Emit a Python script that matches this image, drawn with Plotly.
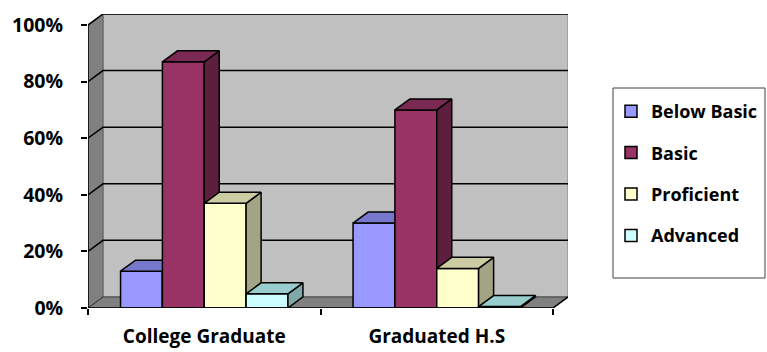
import plotly.graph_objects as go

# ---------------- data ----------------
categories = ["College Graduate", "Graduated H.S"]
series_names = ["Below Basic", "Basic", "Proficient", "Advanced"]
below_basic = [13, 30]
basic = [87, 70]
proficient = [37, 14]
advanced = [5, 0.5]
y_ticks = [0, 20, 40, 60, 80, 100]
y_tick_labels = ["0%", "20%", "40%", "60%", "80%", "100%"]

# ---------------- styles ----------------
front_colors = ["#9999FF", "#993366", "#FFFFCC", "#CCFFFF"]
top_colors = ["#7777CC", "#7A2952", "#CCCCA3", "#99CCCC"]
side_colors = ["#5C5C99", "#5E1F3F", "#A3A385", "#7FA8A8"]
FONT = "Open Sans"
DX = 0.0645   # depth offset in category units
DY = 3.9      # depth offset in percent units
BARGAP = 0.28

series_values = [below_basic, basic, proficient, advanced]
n = len(series_values)
bw = (1 - BARGAP) / n
xc = list(range(len(categories)))
x_lo, x_hi = -0.5, len(categories) - 0.5
y_top = y_ticks[-1]

fig = go.Figure()

for i, (name, vals) in enumerate(zip(series_names, series_values)):
    off = -(1 - BARGAP) / 2 + i * bw
    fig.add_trace(go.Bar(
        x=xc, y=vals, name=name, width=bw, offset=off,
        marker=dict(color=front_colors[i], line=dict(color="black", width=1.5)),
        legendgroup=name, zorder=3 * i, hoverinfo="skip",
    ))
    sx, sy, tx, ty = [], [], [], []
    for c, v in zip(xc, vals):
        x0 = c + off
        x1 = x0 + bw
        sx += [x1, x1 + DX, x1 + DX, x1, x1, None]
        sy += [0, DY, v + DY, v, 0, None]
        tx += [x0, x1, x1 + DX, x0 + DX, x0, None]
        ty += [v, v, v + DY, v + DY, v, None]
    fig.add_trace(go.Scatter(
        x=sx, y=sy, mode="lines", fill="toself", fillcolor=side_colors[i],
        line=dict(color="black", width=1.5), showlegend=False,
        legendgroup=name, zorder=3 * i + 1, hoverinfo="skip",
    ))
    fig.add_trace(go.Scatter(
        x=tx, y=ty, mode="lines", fill="toself", fillcolor=top_colors[i],
        line=dict(color="black", width=1.5), showlegend=False,
        legendgroup=name, zorder=3 * i + 2, hoverinfo="skip",
    ))

# invisible trace to attach overlay x axis with boundary ticks
fig.add_trace(go.Scatter(x=[x_lo], y=[0], xaxis="x2", mode="markers",
                         marker=dict(opacity=0), showlegend=False, hoverinfo="skip"))

W, H = 767, 352
ml, mt = 88, 14
mr, mb = W - 568, H - 308
PW, PH = W - ml - mr, H - mt - mb

shapes = []
# back wall
shapes.append(dict(type="path", layer="below", xref="x", yref="y",
                   path=f"M{x_lo+DX},{DY} L{x_hi+DX},{DY} L{x_hi+DX},{y_top+DY} L{x_lo+DX},{y_top+DY} Z",
                   fillcolor="#C0C0C0", line=dict(color="#808080", width=1)))
# side wall
shapes.append(dict(type="path", layer="below", xref="x", yref="y",
                   path=f"M{x_lo},0 L{x_lo+DX},{DY} L{x_lo+DX},{y_top+DY} L{x_lo},{y_top} Z",
                   fillcolor="#808080", line=dict(color="#606060", width=1)))
# floor
shapes.append(dict(type="path", layer="below", xref="x", yref="y",
                   path=f"M{x_lo},0 L{x_hi},0 L{x_hi+DX},{DY} L{x_lo+DX},{DY} Z",
                   fillcolor="#808080", line=dict(color="#404040", width=1)))
# gridlines
for t in y_ticks[1:]:
    shapes.append(dict(type="path", layer="below", xref="x", yref="y",
                       path=f"M{x_lo},{t} L{x_lo+DX},{t+DY} L{x_hi+DX},{t+DY}",
                       line=dict(color="black", width=1.5)))
shapes.append(dict(type="line", layer="below", xref="x", yref="y",
                   x0=x_lo, y0=0, x1=x_lo + DX, y1=DY, line=dict(color="#404040", width=1)))
# axis lines
shapes.append(dict(type="line", layer="above", xref="x", yref="y",
                   x0=x_lo, y0=0, x1=x_lo, y1=y_top, line=dict(color="black", width=1.5)))
shapes.append(dict(type="line", layer="above", xref="x", yref="y",
                   x0=x_lo, y0=0, x1=x_hi, y1=0, line=dict(color="black", width=1.5)))
shapes.append(dict(type="line", layer="below", xref="x", yref="y",
                   x0=x_hi, y0=0, x1=x_hi + DX, y1=DY, line=dict(color="black", width=1.5)))
# legend frame
LX0, LX1, LY0, LY1 = 613, 765, 88, 278
shapes.append(dict(type="rect", xref="paper", yref="paper", layer="above",
                   x0=(LX0 - ml) / PW, x1=(LX1 - ml) / PW,
                   y0=(H - mb - LY1) / PH, y1=(H - mb - LY0) / PH,
                   line=dict(color="#404040", width=1), fillcolor="rgba(0,0,0,0)"))

fig.update_layout(
    width=W, height=H,
    margin=dict(l=ml, r=mr, t=mt, b=mb, pad=0, autoexpand=False),
    paper_bgcolor="white", plot_bgcolor="white",
    font=dict(family=FONT, size=18, color="black", weight="bold"),
    barmode="overlay",
    shapes=shapes,
    xaxis=dict(range=[x_lo, x_hi + DX], tickvals=xc, ticktext=categories,
               ticks="", showline=False, showgrid=False, zeroline=False,
               ticklabelstandoff=15, tickfont=dict(size=19), fixedrange=True,
               automargin=False),
    xaxis2=dict(range=[x_lo, x_hi + DX], overlaying="x", anchor="y", side="bottom",
                tickvals=[c - 0.5 for c in xc] + [x_hi], showticklabels=False,
                ticks="outside", ticklen=6, tickwidth=1.5, tickcolor="black",
                showline=False, showgrid=False, zeroline=False, automargin=False),
    yaxis=dict(range=[0, y_top + DY], tickvals=y_ticks, ticktext=y_tick_labels,
               ticks="outside", ticklen=6, tickwidth=1.5, tickcolor="black",
               showline=False, showgrid=False, zeroline=False, automargin=False,
               ticklabelstandoff=14, tickfont=dict(size=19.5)),
    legend=dict(x=(611 - ml) / PW, y=(H - mb - 93) / PH, xanchor="left", yanchor="top",
                borderwidth=0, bgcolor="rgba(0,0,0,0)",
                font=dict(size=18, family=FONT, weight="bold"),
                traceorder="grouped", tracegroupgap=15),
    showlegend=True,
)

fig.write_html("out.html")
